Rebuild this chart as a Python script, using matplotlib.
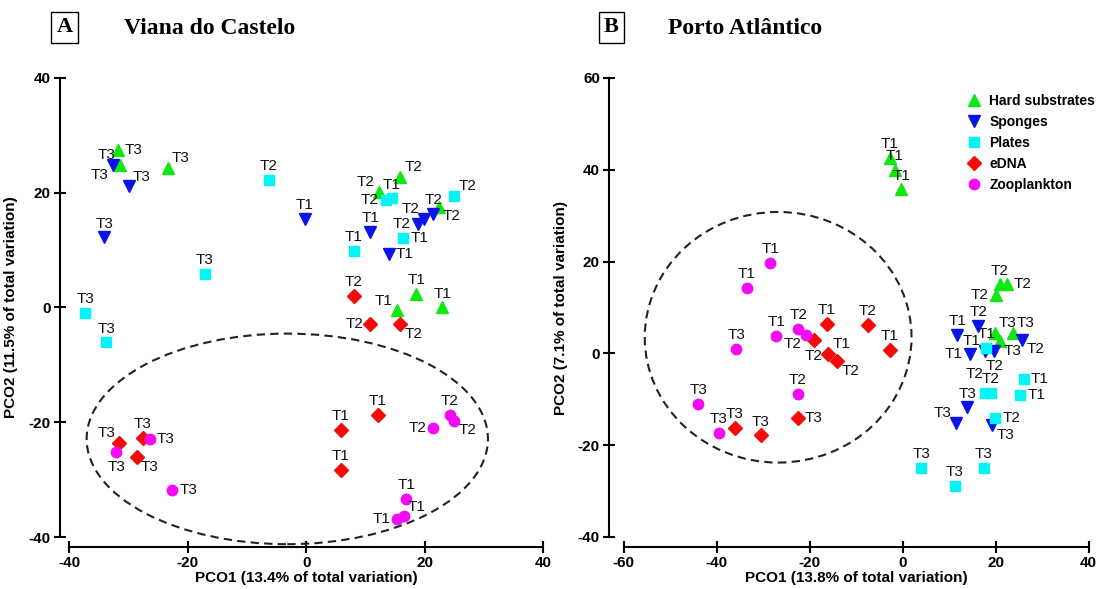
import matplotlib
matplotlib.use("Agg")
import matplotlib.pyplot as plt
from matplotlib.patches import Ellipse
from matplotlib.lines import Line2D

plt.rcParams['font.family'] = ['Liberation Sans', 'DejaVu Sans']
plt.rcParams['axes.unicode_minus'] = False

# ---- Panel A : Viana do Castelo ----
a_hard_x = [-31.8, -31.5, -23.4, 15.9, 12.3, 22.4, 18.6, 15.3, 23.0]
a_hard_y = [27.4, 24.9, 24.3, 22.7, 20.2, 17.6, 2.3, -0.5, 0.0]
a_hard_lab = ['T3', 'T3', 'T3', 'T2', 'T2', 'T2', 'T1', 'T1', 'T1']

a_spon_x = [-32.7, -30.0, -34.1, -0.2, 10.8, 13.9, 18.8, 19.9, 21.5]
a_spon_y = [24.8, 21.1, 12.2, 15.4, 13.2, 9.3, 14.6, 15.4, 16.3]
a_spon_lab = ['T3', 'T3', 'T3', 'T1', 'T1', 'T1', 'T2', 'T2', 'T2']

a_plat_x = [-6.3, 13.4, 14.5, 25.0, 16.4, 8.0, -17.1, -37.3, -33.8]
a_plat_y = [22.3, 18.8, 19.0, 19.5, 12.1, 9.9, 5.8, -0.9, -6.1]
a_plat_lab = ['T2', 'T2', 'T1', 'T2', 'T1', 'T1', 'T3', 'T3', 'T3']

a_edna_x = [8.0, 10.8, 15.9, 5.8, 5.8, 12.1, -31.6, -27.6, -28.6]
a_edna_y = [2.0, -2.9, -2.9, -21.4, -28.3, -18.8, -23.6, -22.8, -26.1]
a_edna_lab = ['T2', 'T2', 'T2', 'T1', 'T1', 'T1', 'T3', 'T3', 'T3']

a_zoo_x = [-26.4, -32.1, -22.6, 21.5, 24.3, 25.0, 16.9, 15.4, 16.5]
a_zoo_y = [-22.9, -25.2, -31.8, -21.0, -18.7, -19.7, -33.4, -36.9, -36.4]
a_zoo_lab = ['T3', 'T3', 'T3', 'T2', 'T2', 'T2', 'T1', 'T1', 'T1']

# ---- Panel B : Porto Atlantico ----
b_hard_x = [-2.8, -1.7, -0.3, 22.4, 20.9, 20.0, 19.8, 23.7, 20.9]
b_hard_y = [42.6, 39.9, 35.7, 15.1, 15.0, 12.8, 4.4, 4.4, 2.6]
b_hard_lab = ['T1', 'T1', 'T1', 'T2', 'T2', 'T2', 'T3', 'T3', 'T3']

b_spon_x = [11.7, 14.4, 17.6, 16.3, 25.7, 19.7, 13.9, 11.5, 19.3]
b_spon_y = [4.1, -0.1, 0.6, 5.9, 3.0, 0.6, -11.8, -15.2, -15.6]
b_spon_lab = ['T1', 'T1', 'T1', 'T2', 'T2', 'T2', 'T3', 'T3', 'T3']

b_plat_x = [18.0, 26.1, 25.3, 17.6, 18.9, 19.9, 4.0, 11.2, 17.5]
b_plat_y = [1.2, -5.7, -9.0, -8.7, -8.7, -14.0, -24.9, -28.8, -24.9]
b_plat_lab = ['T1', 'T1', 'T1', 'T2', 'T2', 'T2', 'T3', 'T3', 'T3']

b_edna_x = [-16.3, -16.0, -2.8, -7.5, -19.1, -14.1, -22.6, -36.1, -30.5]
b_edna_y = [6.4, -0.1, 0.7, 6.1, 2.8, -1.7, -14.1, -16.3, -17.9]
b_edna_lab = ['T1', 'T1', 'T1', 'T2', 'T2', 'T2', 'T3', 'T3', 'T3']

b_zoo_x = [-28.5, -33.6, -27.2, -22.5, -20.9, -22.6, -35.8, -44.0, -39.6]
b_zoo_y = [19.7, 14.3, 3.7, 5.4, 4.1, -8.9, 0.9, -11.1, -17.4]
b_zoo_lab = ['T1', 'T1', 'T1', 'T2', 'T2', 'T2', 'T3', 'T3', 'T3']

# where each point label sits relative to its marker
a_hard_pos = ['e', 'nw', 'ne', 'ne', 'nw', 'se', 'n', 'nw', 'n']
a_spon_pos = ['sw', 'ne', 'n', 'n', 'n', 'e', 'w', 'nw', 'n']
a_plat_pos = ['n', 'w', 'n', 'ne', 'e', 'n', 'n', 'n', 'n']
a_edna_pos = ['n', 'w', 'se', 'n', 'n', 'n', 'nw', 'n', 'se']
a_zoo_pos = ['e', 's', 'e', 'w', 'n', 'se', 'n', 'w', 'ne']
b_hard_pos = ['n', 'n', 'n', 'e', 'n', 'w', 'ne', 'ne', 'se']
b_spon_pos = ['n', 'w', 'nw', 'n', 'se', 's', 'n', 'nw', 'se']
b_plat_pos = ['n', 'e', 'e', 'nnw', 'n', 'e', 'n', 'n', 'n']
b_edna_pos = ['n', 'ne', 'n', 'n', 's', 'se', 'e', 'n', 'n']
b_zoo_pos = ['n', 'n', 'n', 'n', 'sw', 'n', 'n', 'n', 'n']

groups = ['Hard substrates', 'Sponges', 'Plates', 'eDNA', 'Zooplankton']
colors = ['#11E811', '#0A14E6', '#00F5F5', '#F50A0A', '#F50AF5']
markers = ['^', 'v', 's', 'D', 'o']
msizes = [9, 9, 7, 7, 7.5]

offs = {'n': (0, 5, 'center', 'bottom'), 's': (0, -6, 'center', 'top'),
        'e': (5, 0, 'left', 'center'), 'w': (-5, 0, 'right', 'center'),
        'ne': (3, 2, 'left', 'bottom'), 'nw': (-3, 2, 'right', 'bottom'),
        'nnw': (-1, 9, 'right', 'bottom'),
        'se': (3, -2, 'left', 'top'), 'sw': (-3, -2, 'right', 'top')}


def draw_group(ax, xs, ys, labs, pos, k):
    ax.plot(xs, ys, ls='none', marker=markers[k], ms=msizes[k],
            color=colors[k], mec=colors[k], zorder=3 + k)
    for x, y, t, p in zip(xs, ys, labs, pos):
        dx, dy, ha, va = offs[p]
        ax.annotate(t, (x, y), xytext=(dx, dy), textcoords='offset points',
                    ha=ha, va=va, fontsize=11, color='#111111', zorder=10)


def style_axes(ax, xb, yb, xt, yt):
    for s in ['top', 'right']:
        ax.spines[s].set_visible(False)
    ax.spines['left'].set_bounds(*yb)
    ax.spines['bottom'].set_bounds(*xb)
    ax.spines['left'].set_linewidth(1.5)
    ax.spines['bottom'].set_linewidth(1.5)
    ax.set_xticks(xt)
    ax.set_yticks(yt)
    ax.tick_params(direction='inout', length=9, width=1.5, labelsize=11, pad=2)
    for lb in ax.get_xticklabels() + ax.get_yticklabels():
        lb.set_fontweight('bold')


fig = plt.figure(figsize=(11, 5.89), dpi=100)

# panel A
axA = fig.add_axes([0.05455, 0.0713, 0.4606, 0.8158])
axA.set_xlim(-41.6, 44)
axA.set_ylim(-41.74, 42)
a_sets = [(a_hard_x, a_hard_y, a_hard_lab, a_hard_pos),
          (a_spon_x, a_spon_y, a_spon_lab, a_spon_pos),
          (a_plat_x, a_plat_y, a_plat_lab, a_plat_pos),
          (a_edna_x, a_edna_y, a_edna_lab, a_edna_pos),
          (a_zoo_x, a_zoo_y, a_zoo_lab, a_zoo_pos)]
for k, (xs, ys, labs, pos) in enumerate(a_sets):
    draw_group(axA, xs, ys, labs, pos, k)
axA.add_patch(Ellipse((-3.2, -22.9), 67.8, 36.7, fill=False, ls=(0, (4, 2.5)),
                      lw=1.5, color='#222222', zorder=2))
style_axes(axA, (-40, 40), (-40, 40), range(-40, 41, 20), range(-40, 41, 20))
axA.set_xlabel('PCO1 (13.4% of total variation)', fontsize=11, fontweight='bold')
axA.set_ylabel('PCO2 (11.5% of total variation)', fontsize=11, fontweight='bold')
axA.xaxis.set_label_coords(0.4855, -0.05)
axA.yaxis.set_label_coords(-0.083, 0.4995)

# panel B
axB = fig.add_axes([0.5536, 0.0713, 0.4445, 0.8119])
axB.set_xlim(-63.2, 42)
axB.set_ylim(-42.2, 62)
b_sets = [(b_hard_x, b_hard_y, b_hard_lab, b_hard_pos),
          (b_spon_x, b_spon_y, b_spon_lab, b_spon_pos),
          (b_plat_x, b_plat_y, b_plat_lab, b_plat_pos),
          (b_edna_x, b_edna_y, b_edna_lab, b_edna_pos),
          (b_zoo_x, b_zoo_y, b_zoo_lab, b_zoo_pos)]
for k, (xs, ys, labs, pos) in enumerate(b_sets):
    draw_group(axB, xs, ys, labs, pos, k)
axB.add_patch(Ellipse((-26.8, 3.5), 57.4, 54.6, fill=False, ls=(0, (4, 2.5)),
                      lw=1.5, color='#222222', zorder=2))
style_axes(axB, (-60, 40), (-40, 60), range(-60, 41, 20), range(-40, 61, 20))
axB.set_xlabel('PCO1 (13.8% of total variation)', fontsize=11, fontweight='bold')
axB.set_ylabel('PCO2 (7.1% of total variation)', fontsize=11, fontweight='bold')
axB.xaxis.set_label_coords(0.506, -0.05)
axB.yaxis.set_label_coords(-0.084, 0.5)

handles = [Line2D([], [], ls='none', marker=markers[k], ms=msizes[k],
                  color=colors[k]) for k in range(5)]
axB.legend(handles, groups, loc='upper left', bbox_to_anchor=(0.718, 0.962),
           frameon=False, handlelength=1, handletextpad=0.6, borderpad=0,
           labelspacing=0.5, prop={'weight': 'bold', 'size': 10})

# panel titles
box = dict(boxstyle='square,pad=0.25', fc='white', ec='black', lw=1)
fig.text(64.5 / 1100, 1 - 27.5 / 589, 'A', ha='center', va='center', fontsize=16,
         fontweight='bold', family='Liberation Serif', bbox=box)
fig.text(124 / 1100, 1 - 29 / 589, 'Viana do Castelo', ha='left', va='center',
         fontsize=17, fontweight='bold', family='Liberation Serif')
fig.text(611.5 / 1100, 1 - 27.5 / 589, 'B', ha='center', va='center', fontsize=16,
         fontweight='bold', family='Liberation Serif', bbox=box)
fig.text(668 / 1100, 1 - 29 / 589, 'Porto Atlântico', ha='left', va='center',
         fontsize=17, fontweight='bold', family='Liberation Serif')

fig.savefig('out.png', dpi=100)
